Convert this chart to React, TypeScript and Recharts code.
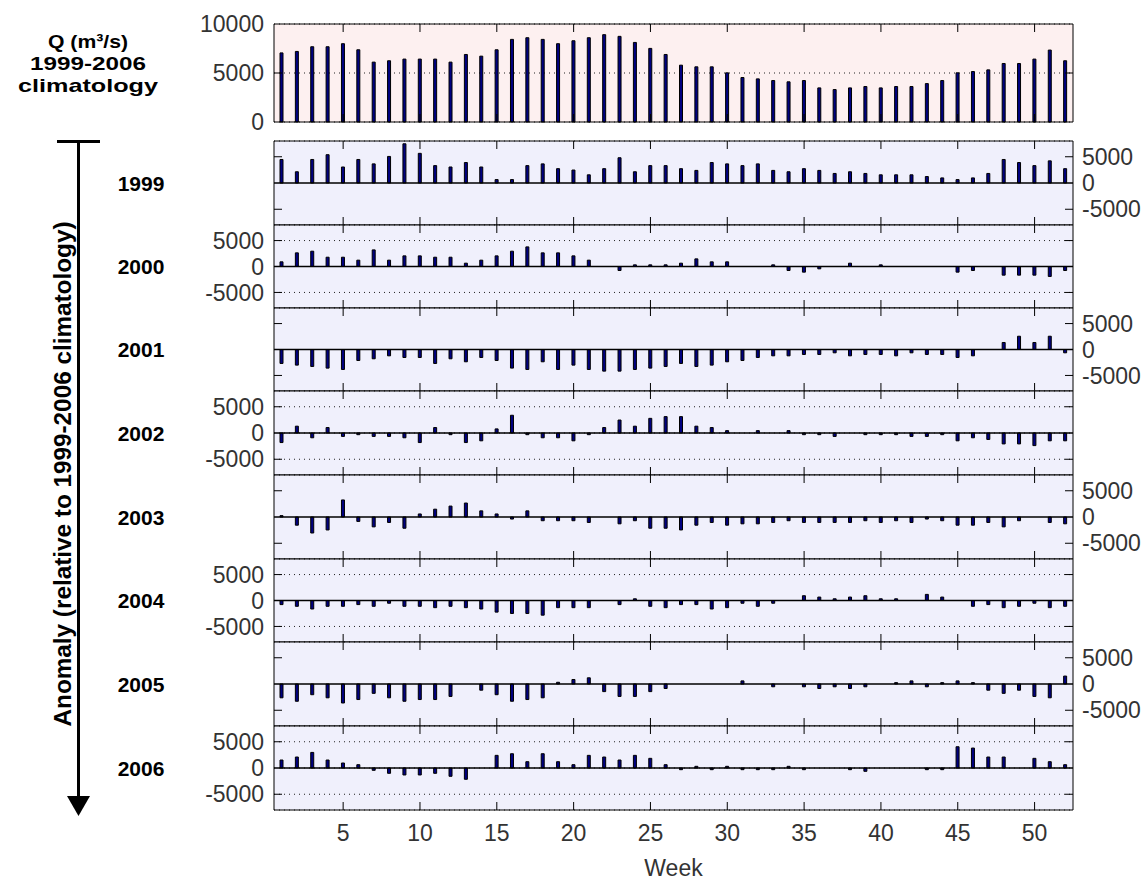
import React from 'react';
import { ComposedChart, Bar, Line, XAxis, YAxis, CartesianGrid, ReferenceLine } from 'recharts';

// weeks of the year and the x ticks
const weeks = Array.from({ length: 52 }, (_, i) => i + 1);
const weekTicks = [5, 10, 15, 20, 25, 30, 35, 40, 45, 50];
const years = ['1999', '2000', '2001', '2002', '2003', '2004', '2005', '2006'];

// 1999-2006 weekly climatology of Q (m3/s)
const climatology = [
  7050, 7200, 7680, 7680, 7990, 7370, 6110, 6250, 6420, 6420, 6420, 6110, 6890,
  6720, 7370, 8430, 8600, 8430, 7990, 8290, 8600, 8910, 8740, 8120, 7510, 6890,
  5800, 5630, 5630, 5020, 4540, 4400, 4230, 4100, 4230, 3480, 3310, 3480, 3620,
  3480, 3620, 3620, 3920, 4230, 5020, 5150, 5320, 5970, 5970, 6420, 7340, 6250,
];

// weekly anomalies, one array per year
const anom1999 = [
  4480, 2140, 4480, 5390, 3050, 4480, 3640, 5060, 7470, 5650, 3310, 3050, 3900,
  3050, 650, 650, 3310, 3640, 2730, 2470, 1560, 2730, 4810, 2140, 3310, 3310,
  2730, 2400, 3900, 3640, 3310, 3640, 2400, 2140, 2730, 2400, 1820, 2140, 1820,
  1560, 1560, 1560, 1230, 970, 650, 970, 1820, 4480, 3900, 3310, 4220, 2730,
];
const anom2000 = [
  900, 2630, 2950, 1790, 1790, 1220, 3200, 1220, 2050, 2050, 1790, 1790, 640,
  1220, 2050, 2950, 3780, 2630, 2630, 2050, 1220, 0, -770, 320, 320, 320,
  640, 1470, 900, 900, 0, 0, 320, -770, -1090, -450, 0, 640, 0,
  320, 0, 0, 0, 0, -1090, -770, 0, -1670, -1670, -1670, -1920, -770,
];
const anom2001 = [
  -2690, -3010, -3270, -3590, -3850, -2120, -1790, -1220, -1540, -1540, -2690, -1790, -2370,
  -1540, -2120, -3590, -3850, -2370, -3850, -3010, -3850, -4170, -4170, -3850, -3590, -3270,
  -2690, -3270, -3010, -2370, -2120, -1540, -1220, -1220, -960, -960, -640, -1220, -960,
  -960, -1220, -640, -960, -960, -1540, -1220, 0, 1350, 2560, 1350, 2560, -640,
];
const anom2002 = [
  -1820, 1300, -910, 1040, -650, -320, -650, -650, -910, -1820, 1040, -320, -1820,
  -1490, 780, 3380, -320, -910, -910, -1490, -320, 1040, 2470, 1300, 2790, 3120,
  3120, 1300, 1040, 450, 0, 450, 0, 450, -320, -320, -650, 0, -320,
  -320, -320, -650, -650, -320, -1490, -910, -1230, -2080, -2080, -2400, -1490, -1490,
];
const anom2003 = [
  260, -1560, -3050, -2470, 3250, -840, -1880, -1040, -2140, 580, 1490, 2080, 2660,
  1170, 580, -390, 1170, -710, -710, -710, -1040, 0, -1300, -710, -2140, -2140,
  -2470, -1560, -1040, -1560, -1300, -1300, -1040, -710, -1040, -1040, -1040, -1040, -710,
  -1040, -710, -1040, -390, -710, -1560, -1560, -1040, -1880, -710, 0, -1040, -1300,
];
const anom2004 = [
  -790, -1120, -1640, -1120, -1120, -790, -1120, -530, -1120, -1120, -1380, -1120, -1380,
  -1640, -2240, -2500, -2500, -2830, -1380, -1380, -1380, 0, -790, 330, -1120, -1380,
  -790, -790, -1640, -1380, -530, -1120, -530, 0, 920, 660, 330, 660, 920,
  330, 330, 0, 1180, 660, 0, -1120, -790, -1380, -1120, -530, -1380, -1120,
];
const anom2005 = [
  -2630, -3290, -2040, -2630, -3620, -2960, -1780, -2630, -3290, -2960, -2960, -2370, 0,
  -1180, -2040, -3290, -2960, -2630, 330, 860, 1180, -1450, -2370, -2370, -1450, -860,
  0, 0, 0, 0, 590, 0, -530, 0, -530, -860, -530, -860, -530,
  0, 260, 590, -530, 260, 590, 260, -1180, -1780, -1180, -2370, -2630, 1510,
];
const anom2006 = [
  1520, 2090, 2970, 1520, 950, 630, -440, -1010, -1330, -1330, -1010, -1580, -2150,
  0, 2410, 2720, 1200, 2720, 1200, 630, 2410, 2090, 1520, 2410, 1840, 630,
  -320, 320, -320, 320, -320, -320, -320, 320, -320, 0, 0, -320, -630,
  0, 0, 0, -320, -320, 4050, 3800, 2090, 2090, 0, 1840, 1200, 630,
];
const anomalies = [anom1999, anom2000, anom2001, anom2002, anom2003, anom2004, anom2005, anom2006];

const FONT = '"Liberation Sans", Arial, Helvetica, sans-serif';
const CHART_W = 1147;
const PLOT_LEFT = 274;
const PLOT_RIGHT = 1073;
const AXIS_W = 60;
const TOP_AXIS_H = 20;
const TICK_LEN = 8;
const X_DOMAIN: [number, number] = [0.5, 52.5];
const panelEdges = [141, 225, 308, 391, 475, 559, 642, 726, 810];
const tickStyle = { fill: '#333', fontSize: 23 };

interface PanelProps {
  values: number[];
  top: number;
  bottom: number;
  domain: [number, number];
  yTicks: number[];
  bg: string;
  leftLabels: boolean;
  rightLabels: boolean;
  xLabels: boolean;
  zeroLine: boolean;
}

const Panel: React.FC<PanelProps> = ({
  values, top, bottom, domain, yTicks, bg, leftLabels, rightLabels, xLabels, zeroLine,
}) => {
  const data = weeks.map((w, i) => ({ week: w, q: values[i] }));
  const bottomH = xLabels ? 70 : 20;
  const plotH = bottom - top;
  const plotW = PLOT_RIGHT - PLOT_LEFT;
  // inward matlab-style ticks: full-span reference lines dashed so only both ends show
  const vDash = `${TICK_LEN} ${plotH - 2 * TICK_LEN} ${TICK_LEN}`;
  const hDash = `${TICK_LEN} ${plotW - 2 * TICK_LEN} ${TICK_LEN}`;
  const innerYTicks = yTicks.filter((t) => t !== 0 && t !== domain[0] && t !== domain[1]);
  return (
    <>
      <div
        style={{
          position: 'absolute', left: PLOT_LEFT, top, width: plotW, height: plotH, background: bg,
        }}
      />
      <ComposedChart
        width={CHART_W}
        height={TOP_AXIS_H + plotH + bottomH}
        data={data}
        margin={{ top: 0, right: CHART_W - PLOT_RIGHT - AXIS_W, bottom: 0, left: PLOT_LEFT - AXIS_W }}
        style={{ position: 'absolute', left: 0, top: top - TOP_AXIS_H }}
      >
        <CartesianGrid
          xAxisId="b" yAxisId="l" vertical={false} stroke="#222" strokeDasharray="1 4"
        />
        <XAxis
          xAxisId="t" orientation="top" dataKey="week" type="number" domain={X_DOMAIN}
          ticks={weekTicks} interval={0} height={TOP_AXIS_H} tick={false} tickLine={false} stroke="#000"
        />
        <XAxis
          xAxisId="b" dataKey="week" type="number" domain={X_DOMAIN}
          ticks={weekTicks} interval={0} height={bottomH} tick={xLabels ? tickStyle : false}
          tickLine={false} tickSize={0} tickMargin={15} stroke="#000"
          label={xLabels ? { value: 'Week', position: 'insideBottom', offset: 4, ...tickStyle } : undefined}
        />
        <YAxis
          yAxisId="l" domain={domain} ticks={yTicks} interval={0} width={AXIS_W}
          tickLine={false} tickSize={0} tickMargin={10}
          tick={leftLabels ? tickStyle : false} stroke="#000"
        />
        <YAxis
          yAxisId="r" orientation="right" domain={domain} ticks={yTicks} interval={0} width={AXIS_W}
          tickLine={false} tickSize={0} tickMargin={9}
          tick={rightLabels ? tickStyle : false} stroke="#000"
        />
        <Bar
          xAxisId="b" yAxisId="l" dataKey="q" fill="#000080" stroke="#000" strokeWidth={1}
          barSize={3} isAnimationActive={false}
        />
        {/* invisible series so the top and right axes get data */}
        <Line
          xAxisId="t" yAxisId="r" dataKey="q" stroke="none" dot={false} activeDot={false}
          legendType="none" isAnimationActive={false}
        />
        {zeroLine && <ReferenceLine xAxisId="b" yAxisId="l" y={0} stroke="#000" strokeWidth={1.3} />}
        {weekTicks.map((w) => (
          <ReferenceLine
            key={`x${w}`} xAxisId="b" yAxisId="l" x={w} stroke="#000" strokeWidth={1}
            strokeDasharray={vDash}
          />
        ))}
        {innerYTicks.map((t) => (
          <ReferenceLine
            key={`y${t}`} xAxisId="b" yAxisId="l" y={t} stroke="#000" strokeWidth={1}
            strokeDasharray={hDash}
          />
        ))}
      </ComposedChart>
    </>
  );
};

export default function App() {
  return (
    <div style={{ position: 'relative', width: 1147, height: 880, fontFamily: FONT, background: '#fff', overflow: 'hidden' }}>
      <style>{'body{margin:0}'}</style>
      <Panel
        values={climatology} top={24} bottom={122} domain={[0, 10000]} yTicks={[0, 5000, 10000]}
        bg="#fdf0f0" leftLabels rightLabels={false} xLabels={false} zeroLine={false}
      />
      {anomalies.map((vals, i) => (
        <Panel
          key={years[i]}
          values={vals}
          top={panelEdges[i]}
          bottom={panelEdges[i + 1]}
          domain={[-8000, 8000]}
          yTicks={[-5000, 0, 5000]}
          bg="#f0f0fc"
          leftLabels={i % 2 === 1}
          rightLabels={i % 2 === 0}
          xLabels={i === anomalies.length - 1}
          zeroLine
        />
      ))}
      <svg width={200} height={880} style={{ position: 'absolute', left: 0, top: 0 }}>
        <g fontFamily={FONT} fontWeight="bold" fill="#000" textAnchor="middle">
          <text x={88} y={48} fontSize={19} textLength={80} lengthAdjust="spacingAndGlyphs">Q (m³/s)</text>
          <text x={88} y={70} fontSize={19} textLength={116} lengthAdjust="spacingAndGlyphs">1999-2006</text>
          <text x={88} y={92} fontSize={19} textLength={140} lengthAdjust="spacingAndGlyphs">climatology</text>
          {years.map((y, i) => (
            <text key={y} x={141} y={(panelEdges[i] + panelEdges[i + 1]) / 2 + 7.5} fontSize={21}>{y}</text>
          ))}
          <text
            transform="translate(71,474) rotate(-90)" fontSize={24}
            textLength={505} lengthAdjust="spacingAndGlyphs"
          >
            Anomaly (relative to 1999-2006 climatology)
          </text>
        </g>
        <line x1={57} y1={141.5} x2={100} y2={141.5} stroke="#000" strokeWidth={3} />
        <line x1={78.5} y1={141} x2={78.5} y2={800} stroke="#000" strokeWidth={3} />
        <polygon points="67,796 90,796 78.5,816" fill="#000" />
      </svg>
    </div>
  );
}
